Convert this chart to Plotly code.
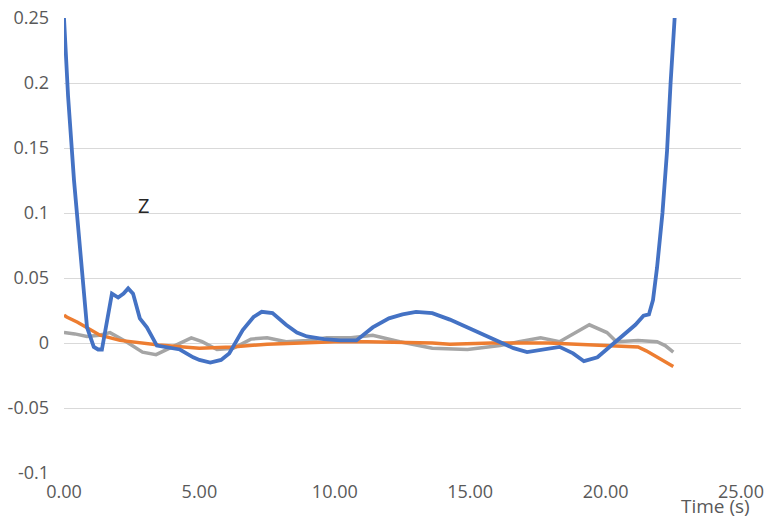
import plotly.graph_objects as go

# Time samples (s) and readings for each channel
t_z = [0.0, 0.15, 0.37, 0.59, 0.85, 1.1, 1.26, 1.4, 1.55, 1.77, 2.0, 2.2, 2.37, 2.55, 2.8, 3.06, 3.43,
       3.9, 4.28, 4.77, 5.0, 5.4, 5.8, 6.1, 6.6, 7.0, 7.3, 7.7, 8.2, 8.6, 8.97, 9.6, 10.2, 10.8, 11.4,
       12.0, 12.5, 13.0, 13.6, 14.25, 15.0, 15.5, 16.1, 16.6, 17.1, 17.7, 18.3, 18.8, 19.2, 19.7,
       20.2, 20.8, 21.1, 21.4, 21.6, 21.75, 21.9, 22.1, 22.27, 22.4, 22.55]
z_vals = [0.25, 0.19, 0.125, 0.072, 0.012, -0.003, -0.005, -0.005, 0.012, 0.038, 0.035, 0.038, 0.042,
          0.038, 0.019, 0.012, -0.002, -0.004, -0.005, -0.011, -0.013, -0.015, -0.013, -0.008, 0.01,
          0.02, 0.024, 0.023, 0.014, 0.008, 0.005, 0.003, 0.002, 0.002, 0.012, 0.019, 0.022, 0.024,
          0.023, 0.018, 0.011, 0.006, 0.0, -0.004, -0.007, -0.005, -0.003, -0.008, -0.014, -0.011,
          -0.002, 0.009, 0.014, 0.021, 0.022, 0.033, 0.058, 0.1, 0.148, 0.2, 0.25]

t_x = [0.0, 0.1, 0.5, 0.85, 1.33, 2.07, 2.8, 3.5, 5.0, 6.2, 7.5, 8.7, 10.0, 11.2, 12.4, 13.6, 14.25,
       15.8, 17.9, 19.2, 20.5, 21.2, 21.5, 21.75, 22.1, 22.5]
x_vals = [0.0215, 0.02, 0.016, 0.012, 0.006, 0.002, 0.0, -0.0015, -0.004, -0.003, -0.001, 0.0, 0.001,
          0.001, 0.0005, 0.0, -0.001, 0.0, 0.0, -0.001, -0.002, -0.003, -0.006, -0.009, -0.013, -0.018]

t_y = [0.0, 0.4, 0.85, 1.3, 1.7, 2.3, 2.9, 3.4, 4.0, 4.7, 5.1, 5.65, 6.25, 6.9, 7.5, 8.2, 9.0, 9.7,
       10.6, 11.4, 12.4, 13.6, 14.9, 15.85, 16.1, 16.8, 17.6, 18.3, 18.9, 19.4, 20.05, 20.4, 21.2,
       21.9, 22.2, 22.5]
y_vals = [0.008, 0.007, 0.005, 0.006, 0.008, 0.001, -0.007, -0.009, -0.003, 0.004, 0.001, -0.005,
          -0.004, 0.003, 0.004, 0.001, 0.002, 0.004, 0.004, 0.006, 0.001, -0.004, -0.005, -0.003,
          -0.002, 0.001, 0.004, 0.001, 0.008, 0.014, 0.008, 0.001, 0.002, 0.001, -0.002, -0.007]

x_ticks = [0, 5, 10, 15, 20, 25]
x_tick_text = ["0.00", "5.00", "10.00", "15.00", "20.00", "25.00"]
y_ticks = [-0.1, -0.05, 0, 0.05, 0.1, 0.15, 0.2, 0.25]
y_tick_text = ["-0.1", "-0.05", "0", "0.05", "0.1", "0.15", "0.2", "0.25"]

regular = "Open Sans, Liberation Sans, sans-serif"

fig = go.Figure()
fig.add_trace(go.Scatter(x=t_y, y=y_vals, mode="lines", name="Y",
                         line=dict(color="#A5A5A5", width=3.5)))
fig.add_trace(go.Scatter(x=t_x, y=x_vals, mode="lines", name="X",
                         line=dict(color="#ED7D31", width=3.5)))
fig.add_trace(go.Scatter(x=t_z, y=z_vals, mode="lines", name="Z",
                         line=dict(color="#4472C4", width=3.8)))

fig.add_annotation(x=2.95, y=0.1055, text="Z", showarrow=False,
                   font=dict(family=regular, size=20, color="#262626"))
fig.add_annotation(xref="paper", yref="paper", x=0.9625, y=-0.073, xanchor="center",
                   yanchor="middle", text="Time (s)", showarrow=False,
                   font=dict(family=regular, size=19, color="#595959"))

fig.update_layout(
    width=768, height=519,
    margin=dict(l=64, r=27, t=18, b=46, autoexpand=False),
    paper_bgcolor="white", plot_bgcolor="white",
    showlegend=False,
    xaxis=dict(range=[0, 25], tickvals=x_ticks, ticktext=x_tick_text, showgrid=False,
               zeroline=False, showline=False, ticks="", ticklabelstandoff=6, automargin=False,
               tickfont=dict(family=regular, size=18, color="#595959")),
    yaxis=dict(range=[-0.1, 0.25], tickvals=y_ticks, ticktext=y_tick_text, showgrid=True,
               gridcolor="#D9D9D9", gridwidth=1, zeroline=False, showline=False, ticks="",
               ticklabelstandoff=14, automargin=False,
               tickfont=dict(family=regular, size=18, color="#595959")),
)

fig.write_html("out.html")
